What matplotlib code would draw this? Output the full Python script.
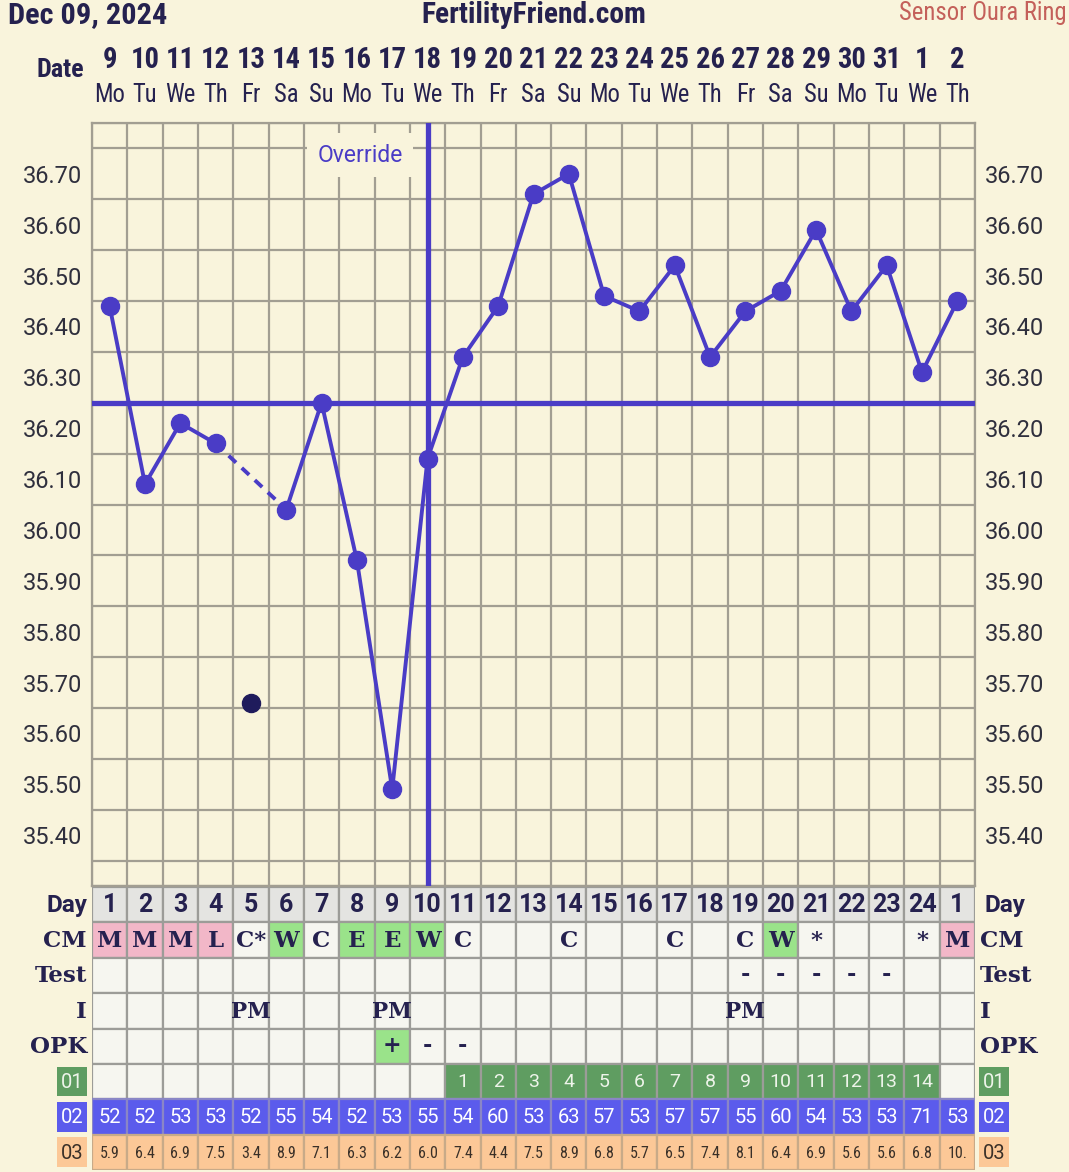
import numpy as np
import matplotlib
matplotlib.use("Agg")
import matplotlib.pyplot as plt
import matplotlib.transforms as mtrans
from matplotlib import font_manager
from matplotlib.patches import Rectangle

# ---------------- fonts ----------------
_names = {f.name for f in font_manager.fontManager.ttflist}


def pick(*cands):
    for c in cands:
        if c in _names:
            return c
    return None


COND = pick("Roboto Condensed", "Liberation Sans Narrow", "Arial Narrow")
IS_COND = COND is not None
if COND is None:
    COND = "Roboto"
SLAB = pick("Roboto Slab", "DejaVu Serif") or "DejaVu Serif"
SANS = pick("Roboto", "DejaVu Sans") or "DejaVu Sans"

# ---------------- data ----------------
date_labels = ["9", "10", "11", "12", "13", "14", "15", "16", "17", "18", "19", "20", "21",
               "22", "23", "24", "25", "26", "27", "28", "29", "30", "31", "1", "2"]
weekday_labels = ["Mo", "Tu", "We", "Th", "Fr", "Sa", "Su", "Mo", "Tu", "We", "Th", "Fr", "Sa",
                  "Su", "Mo", "Tu", "We", "Th", "Fr", "Sa", "Su", "Mo", "Tu", "We", "Th"]
temps = [36.44, 36.09, 36.21, 36.17, np.nan, 36.04, 36.25, 35.94, 35.49, 36.14, 36.34, 36.44,
         36.66, 36.70, 36.46, 36.43, 36.52, 36.34, 36.43, 36.47, 36.59, 36.43, 36.52, 36.31, 36.45]
discarded_idx = [4]
discarded_temp = [35.66]
dashed_from, dashed_to = 3, 5
coverline = 36.25
ovulation_idx = 9
ytick_vals = [35.40, 35.50, 35.60, 35.70, 35.80, 35.90, 36.00, 36.10, 36.20, 36.30, 36.40,
              36.50, 36.60, 36.70]

cycle_day = ["1", "2", "3", "4", "5", "6", "7", "8", "9", "10", "11", "12", "13", "14", "15",
             "16", "17", "18", "19", "20", "21", "22", "23", "24", "1"]
cm_vals = ["M", "M", "M", "L", "C*", "W", "C", "E", "E", "W", "C", "", "", "C", "", "", "C",
           "", "C", "W", "*", "", "", "*", "M"]
test_vals = ["", "", "", "", "", "", "", "", "", "", "", "", "", "", "", "", "", "", "-", "-",
             "-", "-", "-", "", ""]
i_vals = ["", "", "", "", "PM", "", "", "", "PM", "", "", "", "", "", "", "", "", "", "PM", "",
          "", "", "", "", ""]
opk_vals = ["", "", "", "", "", "", "", "", "+", "-", "-", "", "", "", "", "", "", "", "", "",
            "", "", "", "", ""]
row01 = ["", "", "", "", "", "", "", "", "", "", "1", "2", "3", "4", "5", "6", "7", "8", "9",
         "10", "11", "12", "13", "14", ""]
row02 = ["52", "52", "53", "53", "52", "55", "54", "52", "53", "55", "54", "60", "53", "63",
         "57", "53", "57", "57", "55", "60", "54", "53", "53", "71", "53"]
row03 = ["5.9", "6.4", "6.9", "7.5", "3.4", "8.9", "7.1", "6.3", "6.2", "6.0", "7.4", "4.4",
         "7.5", "8.9", "6.8", "5.7", "6.5", "7.4", "8.1", "6.4", "6.9", "5.6", "5.6", "6.8", "10."]

# ---------------- styles ----------------
BG = "#f9f4dc"
GRID = "#a29e92"
PURPLE = "#4a3cc6"
NAVY = "#25214f"
CELL = "#f6f6f0"
DAYROW = "#e4e4e1"
PINK = "#f2b7c8"
LGREEN = "#9ae38a"
DGREEN = "#5f9d61"
BLUE = "#5b5bec"
PEACH = "#fcc897"
TEXT = "#2f2f3d"

W, H = 1069, 1172
fig = plt.figure(figsize=(W / 100, H / 100), dpi=100, facecolor=BG)

X0, X1 = 92, 975
YT, YB = 123, 886
ax = fig.add_axes([X0 / W, 1 - YB / H, (X1 - X0) / W, (YB - YT) / H])
ax.set_facecolor(BG)
n = len(temps)
ax.set_xlim(-0.5, n - 0.5)
ax.set_ylim(35.30, 36.80)

ax.set_xticks(np.arange(-0.5, n, 1.0), minor=True)
ax.set_xticks([])
ax.set_yticks(np.arange(35.30, 36.801, 0.05), minor=True)
ax.set_yticks(ytick_vals)
ax.set_yticklabels([f"{v:.2f}" for v in ytick_vals])
ax.tick_params(axis="both", which="both", length=0)
ax.tick_params(axis="y", which="major", labelleft=True, labelright=True, labelsize=17,
               labelcolor=TEXT, pad=7)
for lab in ax.yaxis.get_majorticklabels():
    lab.set_fontfamily(SANS)
ax.grid(True, which="minor", color=GRID, linewidth=1.6)
ax.set_axisbelow(True)
for s in ax.spines.values():
    s.set_color(GRID)
    s.set_linewidth(1.6)

x = np.arange(n)
ax.axhline(coverline, color=PURPLE, linewidth=3.8, zorder=3)
ax.axvline(ovulation_idx, color=PURPLE, linewidth=3.8, zorder=3)
ax.plot(x, temps, color=PURPLE, linewidth=2.8, marker="o", markersize=13, zorder=4)
ax.plot([dashed_from, dashed_to], [temps[dashed_from], temps[dashed_to]], color=PURPLE,
        linewidth=2.8, linestyle=(0, (2.6, 2.0)), zorder=4)
ax.plot(discarded_idx, discarded_temp, linestyle="none", marker="o", markersize=13,
        color="#1f1b5c", zorder=4)
ax.text(7.09, 36.737, "Override", ha="center", va="center", fontsize=16.5, family=SANS,
        color=PURPLE, zorder=2.5,
        bbox=dict(boxstyle="square,pad=0.45", facecolor=BG, edgecolor="none"))

# ---------------- header ----------------
hs = 1.18 if IS_COND else 1.0
fig.text(8 / W, 1 - 15 / H, "Dec 09, 2024", ha="left", va="center", fontsize=18.5 * hs,
         fontweight="bold", family=COND, color=NAVY)
fig.text(534 / W, 1 - 15 / H, "FertilityFriend.com", ha="center", va="center",
         fontsize=18 * hs, fontweight="bold", family=COND, color=NAVY)
fig.text(1067 / W, 1 - 13 / H, "Sensor Oura Ring", ha="right", va="center",
         fontsize=15 * hs, family=COND, color="#c4605a")
fig.text(60 / W, 1 - 70 / H, "Date", ha="center", va="center", fontsize=16 * hs,
         fontweight="bold", family=COND, color=NAVY)
tr_top = mtrans.blended_transform_factory(ax.transData, fig.transFigure)
for i in range(n):
    ax.text(i, 1 - 60 / H, date_labels[i], transform=tr_top, ha="center", va="center",
            fontsize=17.5 * hs, fontweight="bold", family=COND, color=NAVY)
    ax.text(i, 1 - 95 / H, weekday_labels[i], transform=tr_top, ha="center", va="center",
            fontsize=15 * hs, family=COND, color=NAVY)

# ---------------- table ----------------
TT, TB = 887, 1170
tax = fig.add_axes([X0 / W, 1 - TB / H, (X1 - X0) / W, (TB - TT) / H])
tax.set_xlim(-0.5, n - 0.5)
tax.set_ylim(8, 0)
tax.axis("off")

rows = [cycle_day, cm_vals, test_vals, i_vals, opk_vals, row01, row02, row03]
row_names = ["Day", "CM", "Test", "I", "OPK"]


def cell_color(r, i):
    if r == 0:
        return DAYROW
    if r == 1:
        v = cm_vals[i]
        if v in ("M", "L"):
            return PINK
        if v in ("W", "E"):
            return LGREEN
        return CELL
    if r == 4 and opk_vals[i] == "+":
        return LGREEN
    if r == 5:
        return DGREEN if row01[i] else CELL
    if r == 6:
        return BLUE
    if r == 7:
        return PEACH
    return CELL


for r, vals in enumerate(rows):
    for i in range(n):
        fc = cell_color(r, i)
        ec = "#9c9c98" if r < 6 else ("#8a86c6" if r == 6 else "#c8aa88")
        tax.add_patch(Rectangle((i - 0.5, r), 1, 1, facecolor=fc, edgecolor=ec,
                                linewidth=1.6, zorder=1))
        v = vals[i]
        if not v:
            continue
        if r == 0:
            tax.text(i, r + 0.52, v, ha="center", va="center", fontsize=18,
                     fontweight="bold", family=SANS, color=NAVY, zorder=3)
        elif r in (1, 3):
            fs = 16.5 if r == 1 else 15.5
            tax.text(i, r + 0.52, v, ha="center", va="center", fontsize=fs,
                     fontweight="bold", family=SLAB, color=NAVY, zorder=3)
        elif r in (2, 4):
            tax.text(i, r + 0.5, v, ha="center", va="center", fontsize=16,
                     fontweight="bold", family=SLAB, color=NAVY, zorder=3)
        elif r == 5:
            tax.text(i, r + 0.52, v, ha="center", va="center", fontsize=14,
                     family=SANS, color="#eef4ea", zorder=3)
        elif r == 6:
            tax.text(i, r + 0.52, v, ha="center", va="center", fontsize=14.5,
                     family=SANS, color="#ffffff", zorder=3)
        else:
            tax.text(i, r + 0.52, v, ha="center", va="center", fontsize=11.5,
                     family=COND, color="#3a3028", zorder=3)

# row labels
cw = (X1 - X0) / n
lx = -0.5 - 5 / cw
rx = n - 0.5 + 5 / cw
for r, name in enumerate(row_names):
    fam = SANS if r == 0 else SLAB
    fs = 17.5 if r == 0 else 16.5
    tax.text(lx, r + 0.52, name, ha="right", va="center", fontsize=fs, fontweight="bold",
             family=fam, color=NAVY, clip_on=False)
    tax.text(rx + (5 / cw if r == 0 else 0), r + 0.52, name, ha="left", va="center",
             fontsize=fs, fontweight="bold", family=fam, color=NAVY, clip_on=False)

box_specs = [("01", DGREEN, "#eef4ea"), ("02", BLUE, "#ffffff"), ("03", PEACH, "#3a3028")]
bw = 30 / cw
for k, (lab, fc, tc) in enumerate(box_specs):
    r = 5 + k
    for bx in (-0.5 - 5 / cw - bw, n - 0.5 + 4 / cw):
        tax.add_patch(Rectangle((bx, r + 0.08), bw, 0.84, facecolor=fc, edgecolor="none",
                                clip_on=False))
        tax.text(bx + bw / 2, r + 0.52, lab, ha="center", va="center", fontsize=14.5,
                 family=SANS, color=tc, clip_on=False)

fig.savefig("out.png", dpi=100, facecolor=BG)
